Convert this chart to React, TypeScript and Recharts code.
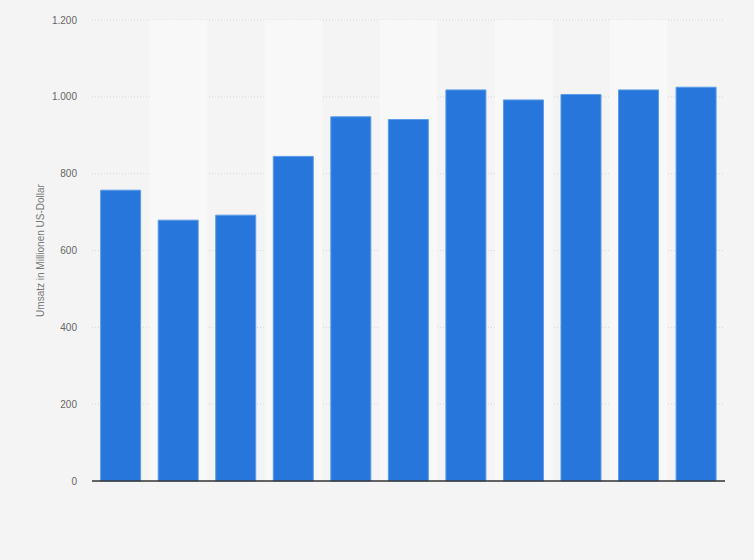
import { BarChart, Bar, XAxis, YAxis, CartesianGrid, ReferenceArea } from "recharts";

// no category labels are shown in the chart, so the keys are just positions
const categories = ["1", "2", "3", "4", "5", "6", "7", "8", "9", "10", "11"];
const revenue = [757, 679, 692, 845, 948, 941, 1018, 992, 1006, 1018, 1025];
const yTicks = [0, 200, 400, 600, 800, 1000, 1200];

const data = categories.map((name, i) => ({ name, value: revenue[i] }));

const formatTick = (v: number) => v.toLocaleString("de-DE");

export default function App() {
  return (
    <div
      style={{
        position: "absolute",
        top: 0,
        left: 0,
        width: 754,
        height: 560,
        background: "#f4f4f4",
        fontFamily: "'Liberation Sans', Arial, sans-serif",
      }}
    >
      <BarChart
        width={754}
        height={560}
        data={data}
        margin={{ top: 20, right: 29, bottom: 59, left: 0 }}
        barCategoryGap="15%"
      >
        {/* lighter stripe behind every second category */}
        {categories
          .filter((_, i) => i % 2 === 1)
          .map((c) => (
            <ReferenceArea key={c} x1={c} x2={c} fill="#f8f8f8" fillOpacity={1} stroke="none" />
          ))}
        <CartesianGrid vertical={false} stroke="#d6d6d6" strokeDasharray="1 2" />
        <XAxis
          dataKey="name"
          tick={false}
          tickLine={false}
          axisLine={{ stroke: "#333", strokeWidth: 1.5 }}
          height={20}
        />
        <YAxis
          width={92}
          domain={[0, 1200]}
          ticks={yTicks}
          tickFormatter={formatTick}
          axisLine={false}
          tickLine={false}
          tickMargin={9}
          tick={{ fill: "#666", fontSize: 10 }}
          label={{
            value: "Umsatz in Millionen US-Dollar",
            angle: -90,
            position: "insideLeft",
            offset: 40,
            style: { textAnchor: "middle", fill: "#777", fontSize: 10 },
          }}
        />
        <Bar dataKey="value" fill="#2776db" stroke="#5b9be8" strokeWidth={1} isAnimationActive={false} />
      </BarChart>
    </div>
  );
}
